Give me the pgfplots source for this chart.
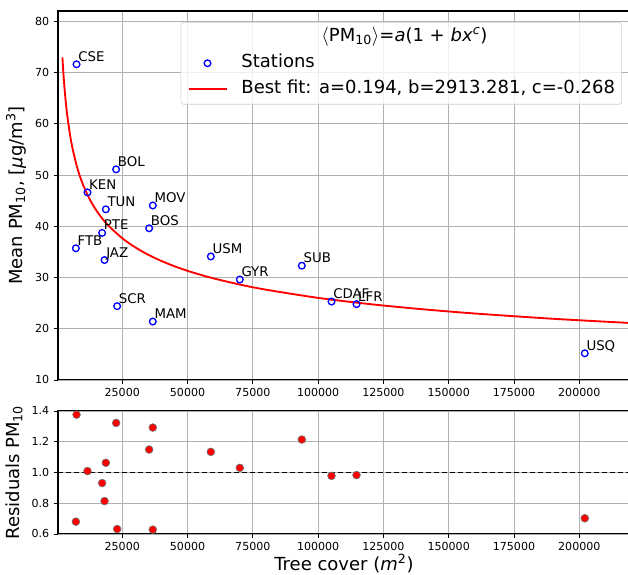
\documentclass[border=0pt]{standalone}
\usepackage{fontspec}
\setmainfont{DejaVu Sans}
\usepackage{pgfplots}
\pgfplotsset{compat=1.18}
\usetikzlibrary{calc}

\definecolor{gridgray}{RGB}{176,176,176}
\definecolor{legframe}{RGB}{204,204,204}

\pgfplotsset{
  base/.style={
    scale only axis, width=429pt,
    xmin=400, xmax=219400,
    scaled x ticks=false, scaled y ticks=false,
    xtick={25000,50000,75000,100000,125000,150000,175000,200000},
    xticklabels={25000,50000,75000,100000,125000,150000,175000,200000},
    grid=major, major grid style={gridgray, line width=0.6pt},
    tick align=outside, xtick pos=bottom, ytick pos=left,
    major tick length=3pt,
    tick style={black, line width=0.6pt},
    axis line style={black, line width=0.8pt},
    tick label style={font=\fontsize{8.3}{10}\selectfont},
    label style={font=\fontsize{13.5}{15}\selectfont},
    /pgf/number format/assume math mode=true,
  },
  markimg/.style={legend image code/.code={\draw[mark repeat=2, mark phase=2, ##1] plot coordinates {(0pt,0pt) (14.25pt,0pt) (28.5pt,0pt)};}},
  lineimg/.style={legend image code/.code={\draw[##1] (0pt,0pt) -- (28.5pt,0pt);}},
}

\begin{document}
\begin{tikzpicture}
\begin{axis}[base, name=top,
    height=276.75pt,
    ymin=10, ymax=82,
    ytick={10,20,30,40,50,60,70,80},
    ylabel={Mean PM\textsubscript{10}, [\textit{μ}g/m\textsuperscript{3}]},
    legend style={at={(1,1)}, anchor=north east, xshift=-6pt, yshift=-8.25pt,
        draw=legframe, rounded corners=2pt, fill=white, fill opacity=0.8, text opacity=1,
        font=\fontsize{13.5}{16}\selectfont, inner xsep=5pt, inner ysep=1.5pt,
        column sep=10.5pt, row sep=0pt,
        nodes={text height=10pt, text depth=3.5pt, inner ysep=3pt, inner xsep=0pt}},
    legend cell align=left,
]
\addlegendimage{empty legend}
\addlegendentry[xshift=60pt]{$\langle$PM\textsubscript{10}$\rangle$=\textit{a}(1 + \textit{bx}\textsuperscript{\textit{c}})}

\addplot[only marks, mark=o, blue, mark size=2.5pt, mark options={line width=1pt},
    nodes near coords, point meta=explicit symbolic,
    every node near coord/.style={anchor=base west, inner sep=0pt, xshift=0.8pt, yshift=2.2pt,
        text=black, font=\fontsize{10}{12}\selectfont},
    markimg]
table[meta=name] {
x      y     name
7500   71.6  CSE
22660  51.1  BOL
11700  46.6  KEN
18720  43.3  TUN
36700  44.05 MOV
17300  38.7  PTE
35300  39.6  BOS
7240   35.7  FTB
18220  33.4  JAZ
58920  34.1  USM
70020  29.6  GYR
23050  24.4  SCR
36700  21.4  MAM
93760  32.3  SUB
105130 25.3  CDAF
114700 24.8  LFR
202100 15.2  USQ
};
\addlegendentry{Stations}

\addplot[red, line width=1.4pt, smooth, lineimg]
table {
x      y
2100   72.95
2500   69.63
3000   66.31
3500   63.64
4000   61.41
5000   57.85
6000   55.11
7500   51.92
8750   49.82
10000  48.08
12500  45.30
15000  43.15
17500  41.40
20000  39.97
25000  37.66
30000  35.87
35000  34.42
40000  33.22
45000  32.19
50000  31.30
55000  30.52
60000  29.82
70000  28.62
80000  27.62
100000 26.02
120000 24.79
140000 23.80
160000 22.97
190000 21.94
219400 21.12
};
\addlegendentry{Best fit: a=0.194, b=2913.281, c=-0.268}
\end{axis}

\begin{axis}[base, name=bot,
    at={($(top.south west)+(0,-23.25pt)$)}, anchor=north west,
    height=92.25pt,
    ymin=0.6, ymax=1.4,
    ytick={0.6,0.8,1.0,1.2,1.4},
    yticklabels={0.6,0.8,1.0,1.2,1.4},
    xlabel={Tree cover (\textit{m}\textsuperscript{2})},
    xlabel style={yshift=4.5pt},
    ylabel={Residuals PM\textsubscript{10}},
]
\addplot[black, line width=1.3pt, dash pattern=on 4pt off 2pt] coordinates {(400,1) (219400,1)};
\addplot[only marks, mark=*, mark size=2.9pt,
    mark options={fill=red, draw=black!55, line width=0.5pt}]
table {
x      y
7500   1.376
22660  1.322
11700  1.009
18720  1.063
36700  1.292
17300  0.931
35300  1.149
7240   0.680
18220  0.814
58920  1.134
70020  1.030
23050  0.632
36700  0.628
93760  1.214
105130 0.978
114700 0.983
202100 0.702
};
\coordinate (cut) at (axis cs:218650,0.6);
\end{axis}

\pgfresetboundingbox
\path[use as bounding box] ($(top.north west)+(-43.5pt,8.25pt)$) rectangle ($(cut |- bot.south west)+(0,-30.75pt)$);
\end{tikzpicture}
\end{document}
